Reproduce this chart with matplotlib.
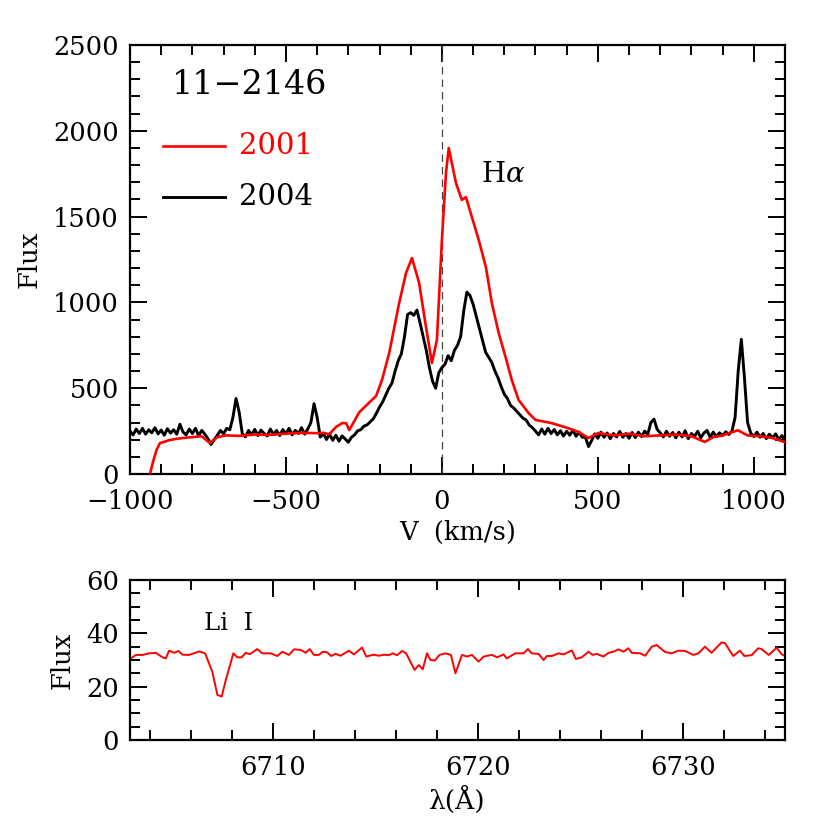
import matplotlib
matplotlib.use("Agg")
import matplotlib.pyplot as plt
from matplotlib.ticker import MultipleLocator

plt.rcParams['font.family'] = ['DejaVu Serif']
plt.rcParams['mathtext.fontset'] = 'dejavuserif'

# ---------------- data: H-alpha, 2001 (red) ----------------
v_2001 = [-936, -926, -915, -904, -872, -850, -830, -800, -770, -744, -720, -690,
          -650, -600, -550, -500, -450, -400, -380, -361, -339, -319, -307, -297,
          -265, -211, -192, -169, -137, -115, -96, -73, -51, -32, -16, 0, 13, 22,
          45, 64, 77, 96, 118, 141, 160, 182, 204, 224, 246, 278, 300, 351, 400,
          438, 470, 502, 550, 600, 650, 700, 750, 800, 843, 870, 900, 949, 980,
          1020, 1060, 1100]
f_2001 = [0, 72, 140, 180, 198, 205, 210, 215, 220, 180, 215, 225,
          222, 230, 228, 235, 240, 238, 240, 232, 275, 297, 296, 256,
          360, 455, 548, 705, 997, 1171, 1259, 1113, 857, 647, 781, 1364, 1754, 1900,
          1696, 1597, 1614, 1498, 1364, 1206, 997, 822, 682, 548, 431, 355, 315, 297, 270,
          245, 210, 239, 225, 235, 220, 225, 230, 220, 187, 215, 225, 255, 225,
          220, 210, 185]

# ---------------- data: H-alpha, 2004 (black), 10 km/s steps ----------------
v_2004 = list(range(-1000, 1101, 10))
f_2004 = [250, 228, 262, 236, 266, 232, 258, 240, 270, 234, 256, 226, 264, 238, 258, 232,   # -1000..-850
          290, 245, 228, 262, 236, 266, 224, 254, 232, 205, 172, 200, 226, 254, 234, 266,  # -840..-690
          258, 330, 440, 360, 235, 216, 254, 228, 260, 224, 256, 236, 222, 262, 230, 254,  # -680..-530
          224, 259, 234, 266, 228, 254, 236, 270, 232, 262, 300, 410, 330, 215, 236, 201,  # -520..-370
          232, 196, 226, 191, 222, 204, 185, 214, 228, 252, 258, 279, 286, 304, 321, 354,  # -360..-210
          390, 420, 460, 500, 530, 600, 660, 700, 800, 930, 940, 925, 955, 880, 800, 720,  # -200..-50
          620, 540, 500, 590, 620, 640, 690, 660, 720, 750, 800, 950, 1060, 1040, 990, 920, # -40..110
          850, 780, 710, 680, 650, 600, 560, 510, 465, 440, 400, 385, 365, 345, 325, 315,  # 120..270
          285, 270, 250, 228, 262, 232, 266, 236, 259, 228, 252, 221, 249, 226, 256, 220,  # 280..430
          244, 214, 215, 160, 195, 234, 208, 244, 214, 239, 206, 236, 216, 248, 214, 236,  # 440..590
          208, 242, 212, 244, 218, 250, 230, 300, 320, 260, 240, 216, 249, 220, 242, 211,  # 600..750
          244, 216, 252, 206, 236, 218, 249, 211, 239, 254, 214, 244, 218, 240, 224, 246,  # 760..910
          230, 250, 330, 600, 785, 560, 300, 239, 218, 244, 214, 236, 206, 232, 211, 234,  # 920..1070
          201, 224, 196, 210]                                                             # 1080..1100
n = min(len(v_2004), len(f_2004))
v_2004, f_2004 = v_2004[:n], f_2004[:n]

# ---------------- data: Li I region ----------------
wl_li = [6703.04, 6703.29, 6703.61, 6703.94, 6704.26, 6704.59, 6704.75, 6704.91, 6705.16,
         6705.37, 6705.56, 6705.89, 6706.38, 6706.67, 6707.02, 6707.27, 6707.48, 6707.68,
         6708.05, 6708.24, 6708.46, 6708.65, 6708.86, 6709.22, 6709.46, 6709.87, 6710.20,
         6710.44, 6710.77, 6711.01, 6711.34, 6711.58, 6711.78, 6711.99, 6712.23, 6712.42,
         6712.63, 6712.83, 6713.04, 6713.29, 6713.69, 6713.94, 6714.34, 6714.54, 6714.91,
         6715.16, 6715.40, 6715.64, 6715.84, 6716.05, 6716.29, 6716.49, 6716.90, 6717.11,
         6717.30, 6717.51, 6717.68, 6717.89, 6718.12, 6718.41, 6718.68, 6718.90, 6719.22,
         6719.46, 6719.71, 6720.03, 6720.28, 6720.68, 6720.93, 6721.25, 6721.41, 6721.82,
         6722.23, 6722.44, 6722.63, 6722.96, 6723.20, 6723.37, 6723.61, 6723.94, 6724.18,
         6724.59, 6724.78, 6725.07, 6725.40, 6725.60, 6725.80, 6726.13, 6726.38, 6726.62,
         6726.86, 6727.11, 6727.35, 6727.51, 6727.92, 6728.17, 6728.49, 6728.73, 6729.14,
         6729.46, 6729.79, 6730.12, 6730.52, 6730.77, 6731.09, 6731.41, 6731.90, 6732.07,
         6732.47, 6732.80, 6733.01, 6733.37, 6733.69, 6733.85, 6734.21, 6734.59, 6734.83,
         6735.00]
f_li = [30.6, 31.9, 31.9, 32.5, 32.7, 31.0, 30.6, 33.5, 32.7,
        33.4, 32.0, 31.9, 33.2, 32.5, 25.6, 16.9, 16.3, 22.5,
        32.5, 31.0, 31.0, 32.7, 32.2, 34.1, 32.5, 32.5, 31.5,
        33.1, 31.9, 34.0, 33.8, 32.7, 34.1, 31.9, 31.9, 33.1,
        32.9, 31.5, 32.3, 31.6, 33.5, 32.1, 34.7, 31.3, 32.0,
        31.6, 32.0, 31.8, 32.5, 31.8, 33.4, 32.5, 26.3, 28.1,
        26.5, 32.5, 30.0, 29.8, 31.9, 32.5, 31.9, 25.0, 31.9,
        31.3, 31.9, 29.4, 31.3, 31.9, 31.0, 32.1, 30.6, 32.5,
        32.5, 34.1, 32.5, 32.3, 30.0, 31.5, 31.5, 32.5, 32.1,
        33.6, 30.4, 31.0, 33.1, 31.9, 32.3, 31.3, 32.7, 33.1,
        34.0, 33.1, 34.4, 32.7, 32.5, 31.6, 35.0, 35.6, 33.0,
        32.5, 33.5, 33.4, 31.9, 32.5, 35.0, 32.7, 36.6, 36.3,
        31.5, 33.5, 31.5, 31.8, 34.4, 34.1, 31.9, 34.6, 32.2,
        31.5]
m = min(len(wl_li), len(f_li))
wl_li, f_li = wl_li[:m], f_li[:m]

fig = plt.figure(figsize=(8.3, 8.3), dpi=100)
ax1 = fig.add_axes([130/830, 1-474/830, 655/830, 429/830])
ax2 = fig.add_axes([130/830, 1-740/830, 655/830, 160/830])

def style(ax, major_len, minor_len):
    for s in ax.spines.values():
        s.set_linewidth(1.6)
    ax.tick_params(which='both', direction='in', top=True, right=True, width=1.4,
                   labelsize=18.5, pad=8)
    ax.tick_params(which='major', length=major_len)
    ax.tick_params(which='minor', length=minor_len)
    ax.tick_params(axis='x', which='both', pad=11)

ax1.plot(v_2004, f_2004, color='black', lw=2.1, zorder=3)
ax1.plot(v_2001, f_2001, color='#ff0000', lw=1.9, zorder=4)
ax1.axvline(0, color='#444444', lw=0.9, ls=(0, (6, 4)), zorder=2)
ax1.set_xlim(-1000, 1100)
ax1.set_ylim(0, 2500)
ax1.xaxis.set_major_locator(MultipleLocator(500))
ax1.xaxis.set_minor_locator(MultipleLocator(100))
ax1.yaxis.set_major_locator(MultipleLocator(500))
ax1.yaxis.set_minor_locator(MultipleLocator(100))
style(ax1, 12, 7)
ax1.set_xlabel('V  (km/s)', fontsize=18.5, labelpad=4)
ax1.set_ylabel('Flux', fontsize=18.5, labelpad=8)

ax1.text(-865, 2265, '11\u22122146', fontsize=24, ha='left', va='center')
ax1.plot([-895, -697], [1914, 1914], color='#ff0000', lw=1.9)
ax1.text(-652, 1914, '2001', fontsize=21, color='#ff0000', ha='left', va='center')
ax1.plot([-895, -697], [1617, 1617], color='black', lw=2.1)
ax1.text(-652, 1617, '2004', fontsize=21, color='black', ha='left', va='center')
ax1.text(125, 1743, r'H$\alpha$', fontsize=20, ha='left', va='center')

ax2.plot(wl_li, f_li, color='#ff0000', lw=1.4)
ax2.set_xlim(6703, 6735)
ax2.set_ylim(0, 60)
ax2.xaxis.set_major_locator(MultipleLocator(10))
ax2.xaxis.set_minor_locator(MultipleLocator(2))
ax2.yaxis.set_major_locator(MultipleLocator(20))
ax2.yaxis.set_minor_locator(MultipleLocator(5))
style(ax2, 12, 7)
ax2.set_xlabel('\u03bb(\u00c5)', fontsize=19, labelpad=4)
ax2.set_ylabel('Flux', fontsize=18.5, labelpad=8)
ax2.text(6706.6, 43.5, 'Li  I', fontsize=17.5, ha='left', va='center')

fig.savefig('out.png', dpi=100)
